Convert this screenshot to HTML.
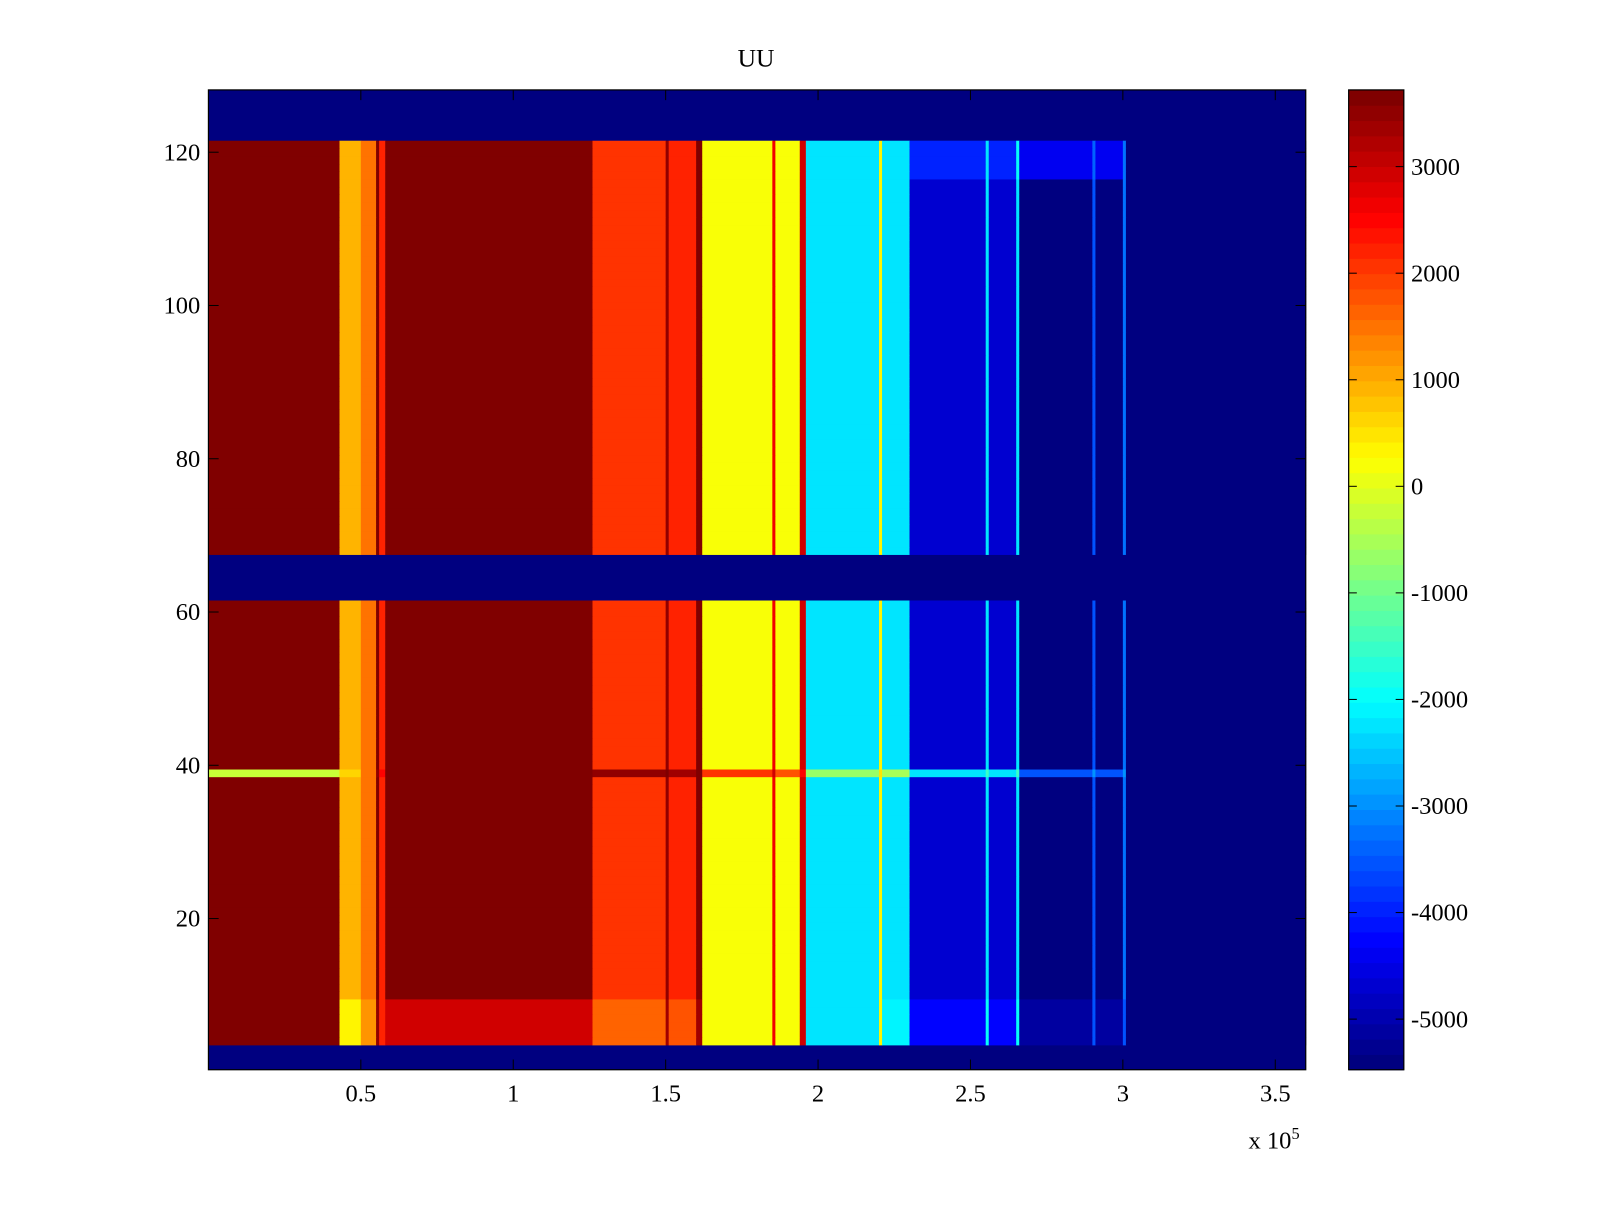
<!DOCTYPE html>
<html><head><meta charset="utf-8">
<style>
body{margin:0;background:#fff;}
svg text{font-family:"Liberation Serif",serif;fill:#000;}
</style></head>
<body>
<svg id="fig" width="1600" height="1200" viewBox="0 0 1566 1174.5" preserveAspectRatio="none" xmlns="http://www.w3.org/2000/svg">
<rect width="1566" height="1175" fill="#fff"/>
<text x="740" y="65" font-size="25" text-anchor="middle">UU</text>
<g id="heat"></g>
<g id="axes"></g>
<g id="cbar"></g>
</svg>
<script>
// ---- data ----
const segEdges = [0,0.43,0.5,0.55,0.56,0.58,1.26,1.5,1.51,1.6,1.62,1.85,1.86,1.94,1.96,2.2,2.21,2.3,2.55,2.56,2.65,2.66,2.9,2.91,3.0,3.01,3.6];
const baseVals   = [3720,900,1500,3720,2200,3720,2100,3500,2200,3600,250,2600,150,3000,-2300,300,-2200,-4700,-2200,-4700,-2200,-5350,-3600,-5350,-3200,-5475];
const row39Vals  = [-300,600,1500,3500,2500,3720,3500,3700,3300,3600,2000,3000,1800,2500,-600,500,-500,-2300,-1500,-2300,-1500,-3500,-3000,-3500,-3000,-5475];
const bottomVals = [3720,400,1200,3500,2200,2900,1700,3300,1800,3400,250,2600,150,3000,-2200,300,-2100,-4200,-2000,-4200,-2000,-5100,-3600,-5100,-3600,-5475];
const topVals    = [3720,900,1500,3720,2200,3720,2100,3500,2200,3600,250,2600,150,3000,-2300,300,-2200,-4000,-2200,-4000,-2000,-4400,-3400,-4400,-3200,-5475];
const blankRows = [[1,3],[62,67],[122,128]];
const xTicks = [0.5,1,1.5,2,2.5,3,3.5];
const yTicks = [20,40,60,80,100,120];
const cTicks = [3000,2000,1000,0,-1000,-2000,-3000,-4000,-5000];
const cMin=-5475, cMax=3720;
// ---- scales ----
const L=204,R=1278,T=88,B=1047;
const xMin=0,xMax=3.6,yMin=0.27,yMax=128.13;
const sx=v=>L+(v-xMin)/(xMax-xMin)*(R-L);
const sy=v=>B-(v-yMin)/(yMax-yMin)*(B-T);
const CL=1320,CR=1374;
const sc=v=>B-(v-cMin)/(cMax-cMin)*(B-T);
function jet(t){
  t=Math.max(0,Math.min(1,t));
  t=Math.min(63,Math.floor(t*64))/63;
  const c=x=>Math.round(255*Math.max(0,Math.min(1,x)));
  return `rgb(${c(1.5-Math.abs(4*t-3))},${c(1.5-Math.abs(4*t-2))},${c(1.5-Math.abs(4*t-1))})`;
}
const col=v=>jet((v-cMin)/(cMax-cMin));
const NS="http://www.w3.org/2000/svg";
function mk(tag,attrs,parent){const e=document.createElementNS(NS,tag);for(const k in attrs)e.setAttribute(k,attrs[k]);parent.appendChild(e);return e;}
const heat=document.getElementById('heat');
mk('rect',{x:L,y:T,width:R-L,height:B-T,fill:col(cMin)},heat);
function valsFor(r){
  for(const b of blankRows) if(r>=b[0]&&r<=b[1]) return null;
  if(r===39) return row39Vals;
  if(r>=4&&r<=9) return bottomVals;
  if(r>=117&&r<=121) return topVals;
  return baseVals;
}
for(let r=1;r<=128;r++){
  const vals=valsFor(r); if(!vals) continue;
  const y0=Math.max(T,sy(r+0.5)), y1=Math.min(B,sy(r-0.5));
  for(let i=0;i<vals.length;i++){
    const x0=sx(segEdges[i]), x1=Math.min(R,sx(segEdges[i+1]));
    const c=mk('rect',{x:x0,y:y0,width:x1-x0+0.4,height:y1-y0+0.4,fill:col(vals[i])},heat);
    
    
  }
}
// ---- axes ----
const ax=document.getElementById('axes');
mk('rect',{x:L,y:T,width:R-L,height:B-T,fill:'none',stroke:'#000','stroke-width':1.2},ax);
xTicks.forEach(v=>{
  const x=sx(v);
  mk('line',{x1:x,x2:x,y1:B,y2:B-10,stroke:'#000'},ax);
  mk('line',{x1:x,x2:x,y1:T,y2:T+10,stroke:'#000'},ax);
  const t=mk('text',{x:x,y:B+31,'font-size':24,'text-anchor':'middle'},ax);
  t.textContent=String(v);
  
  
});
yTicks.forEach(v=>{
  const y=sy(v);
  mk('line',{x1:L,x2:L+10,y1:y,y2:y,stroke:'#000'},ax);
  mk('line',{x1:R,x2:R-10,y1:y,y2:y,stroke:'#000'},ax);
  const t=mk('text',{x:L-8,y:y+8,'font-size':24,'text-anchor':'end'},ax);
  t.textContent=String(v);
  
  
});
const ex=mk('text',{x:1222,y:1124,'font-size':24},ax);


ex.innerHTML='x 10<tspan dy="-9" font-size="16">5</tspan>';
// ---- colorbar ----
const cb=document.getElementById('cbar');
for(let i=0;i<64;i++){
  const v0=cMin+(cMax-cMin)*i/64, v1=cMin+(cMax-cMin)*(i+1)/64;
  const r=mk('rect',{x:CL,y:sc(v1),width:CR-CL,height:sc(v0)-sc(v1)+0.5,fill:jet(i/63)},cb);
  
  
}
mk('rect',{x:CL,y:T,width:CR-CL,height:B-T,fill:'none',stroke:'#000','stroke-width':1.2},cb);
cTicks.forEach(v=>{
  const y=sc(v);
  mk('line',{x1:CL,x2:CL+8,y1:y,y2:y,stroke:'#000'},cb);
  mk('line',{x1:CR,x2:CR-8,y1:y,y2:y,stroke:'#000'},cb);
  const t=mk('text',{x:CR+7,y:y+8,'font-size':24},cb);
  t.textContent=String(v);
  
  
});
</script>
</body></html>
